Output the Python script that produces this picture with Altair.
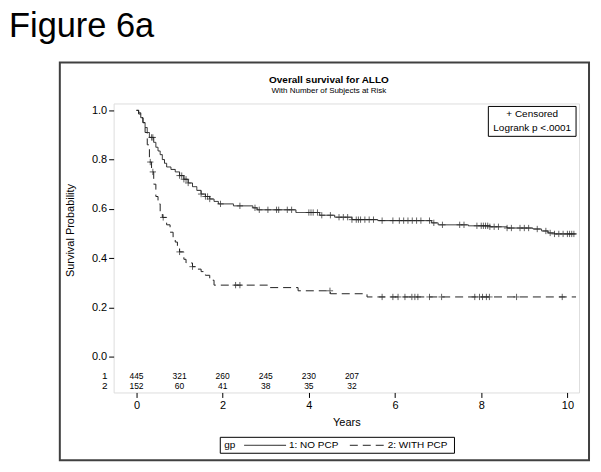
import altair as alt
import pandas as pd
import numpy as np

groups = ["1: NO PCP", "2: WITH PCP"]

# Kaplan-Meier step curves
t1 = [0.0, 0.05, 0.1, 0.15, 0.2, 0.25, 0.3, 0.4, 0.45, 0.5, 0.55, 0.6, 0.65, 0.7, 0.8, 0.9,
      1.0, 1.1, 1.2, 1.3, 1.4, 1.5, 1.6, 1.7, 1.8, 1.9, 2.25, 2.7, 2.8, 3.7, 4.25, 4.6, 5.0,
      5.6, 6.85, 7.0, 7.7, 8.2, 8.6, 9.2, 9.4, 9.55, 9.7, 10.2]
s1 = [1.0, 0.99, 0.97, 0.95, 0.93, 0.91, 0.89, 0.87, 0.85, 0.835, 0.82, 0.80, 0.785, 0.77, 0.76, 0.75,
      0.735, 0.72, 0.705, 0.69, 0.675, 0.66, 0.65, 0.64, 0.63, 0.62, 0.612, 0.604, 0.596, 0.585, 0.574, 0.566, 0.556,
      0.552, 0.543, 0.535, 0.531, 0.527, 0.522, 0.518, 0.51, 0.502, 0.498, 0.498]

t2 = [0.0, 0.05, 0.1, 0.15, 0.2, 0.25, 0.3, 0.35, 0.4, 0.45, 0.5, 0.55, 0.6, 0.7, 0.78, 0.85,
      0.9, 0.95, 1.0, 1.1, 1.15, 1.3, 1.4, 1.5, 1.6, 1.7, 1.8, 3.1, 3.75, 4.5, 5.35, 10.2]
s2 = [1.0, 0.985, 0.97, 0.95, 0.91, 0.86, 0.79, 0.75, 0.70, 0.65, 0.62, 0.59, 0.565, 0.535, 0.505, 0.48,
      0.465, 0.445, 0.425, 0.395, 0.38, 0.365, 0.355, 0.345, 0.33, 0.31, 0.29, 0.28, 0.267, 0.255, 0.242, 0.242]

# Censoring times
c1 = [0.35, 0.38, 1.0, 1.05, 1.1, 1.15, 1.2, 1.5, 1.6, 1.65, 1.7, 1.95, 2.4, 2.75, 2.85, 3.05,
      3.25, 3.3, 3.5, 3.6, 4.0, 4.05, 4.1, 4.2, 4.3, 4.5, 4.7, 4.8, 4.9, 5.0, 5.1, 5.15, 5.2, 5.3,
      5.4, 5.5, 5.7, 5.95, 6.1, 6.2, 6.3, 6.4, 6.5, 6.6, 6.8, 6.9, 7.1, 7.5, 7.6, 7.9, 8.0, 8.05,
      8.1, 8.15, 8.2, 8.3, 8.4, 8.6, 8.7, 8.9, 9.0, 9.1, 9.3, 9.5, 9.6, 9.7, 9.8, 9.9, 10.0,
      10.05, 10.1, 10.15]
c2 = [0.32, 0.38, 0.62, 1.0, 1.3, 2.3, 2.4, 4.49, 5.7, 5.95, 6.07, 6.23, 6.39, 6.46, 6.53,
      6.8, 7.08, 7.85, 7.96, 8.03, 8.12, 8.19, 8.82, 9.88]

# Number at risk
risk_times = [0, 1, 2, 3, 4, 5]
risk1 = [445, 321, 260, 245, 230, 207]
risk2 = [152, 60, 41, 38, 35, 32]

FONT = "Liberation Sans"
W, H = 467, 290

curves = pd.concat([
    pd.DataFrame({"t": t1, "s": s1, "group": groups[0]}),
    pd.DataFrame({"t": t2, "s": s2, "group": groups[1]}),
])


def step_at(ts, ss, c):
    idx = np.searchsorted(np.array(ts), np.array(c), side="right") - 1
    return [ss[i] for i in idx]


cens = pd.concat([
    pd.DataFrame({"t": c1, "s": step_at(t1, s1, c1), "group": groups[0]}),
    pd.DataFrame({"t": c2, "s": step_at(t2, s2, c2), "group": groups[1]}),
])

risk = pd.DataFrame({"t": risk_times, "n1": risk1, "n2": risk2})

xscale = alt.Scale(domain=[-0.53, 10.27], nice=False, zero=False)
yscale = alt.Scale(domain=[-0.146, 1.028], nice=False, zero=False)

xaxis = alt.Axis(title="Years", values=[0, 2, 4, 6, 8, 10], grid=False, domain=False,
                 tickSize=5, tickColor="black", labelFontSize=11, labelColor="black",
                 labelFont=FONT, titleFont=FONT, titleFontSize=11, titleFontWeight="normal",
                 titleColor="black", labelPadding=2, titlePadding=6)
yaxis = alt.Axis(title="Survival Probability", values=[0, 0.2, 0.4, 0.6, 0.8, 1.0], format=".1f",
                 grid=False, domain=False, tickSize=5, tickColor="black", labelFontSize=11,
                 labelColor="black", labelFont=FONT, titleFont=FONT, titleFontSize=11,
                 titleFontWeight="normal", titleColor="black", labelPadding=2,
                 titleX=-38, titleY=127)

dash_scale = alt.Scale(domain=groups, range=[[1, 0], [8, 5]])

lines = alt.Chart(curves).mark_line(interpolate="step-after", color="#222222", strokeWidth=1).encode(
    x=alt.X("t:Q", scale=xscale, axis=xaxis),
    y=alt.Y("s:Q", scale=yscale, axis=yaxis),
    strokeDash=alt.StrokeDash("group:N", scale=dash_scale, legend=None),
    detail="group:N",
)

marks = alt.Chart(cens).mark_point(
    shape="M0,-1V1M-1,0H1", filled=False, size=40, color="#222222", strokeWidth=1
).encode(x=alt.X("t:Q", scale=xscale), y=alt.Y("s:Q", scale=yscale))

r1 = alt.Chart(risk).mark_text(fontSize=8.5, font=FONT, color="black").encode(
    x=alt.X("t:Q", scale=xscale), y=alt.value(273), text="n1:Q")
r2 = alt.Chart(risk).mark_text(fontSize=8.5, font=FONT, color="black").encode(
    x=alt.X("t:Q", scale=xscale), y=alt.value(284), text="n2:Q")

one = pd.DataFrame({"a": [0]})


def label(txt, x, y, size=10, align="center", weight="normal", baseline="middle"):
    return alt.Chart(one).mark_text(text=txt, fontSize=size, font=FONT, align=align,
                                    fontWeight=weight, baseline=baseline, color="black").encode(
        x=alt.value(x), y=alt.value(y))


rowlab1 = label("1", -6, 273, align="right")
rowlab2 = label("2", -6, 284, align="right")

inset_box = alt.Chart(one).mark_rect(fill="white", stroke="black", strokeWidth=1).encode(
    x=alt.value(376), x2=alt.value(464), y=alt.value(3), y2=alt.value(33))
inset1 = label("+ Censored", 420, 11)
inset2 = label("Logrank p <.0001", 420, 25)

outer = alt.Chart(one).mark_rect(fill="transparent", stroke="#404040", strokeWidth=2).encode(
    x=alt.value(-54), x2=alt.value(477), y=alt.value(-41), y2=alt.value(358))

fig = label("Figure 6a", -105, -67, size=34.5, align="left", baseline="alphabetic")
title1 = label("Overall survival for ALLO", 216, -24, size=10, weight="bold")
title2 = label("With Number of Subjects at Risk", 216, -12, size=8)

# manual legend
leg_box = alt.Chart(one).mark_rect(fill="white", stroke="black", strokeWidth=1).encode(
    x=alt.value(107), x2=alt.value(342), y=alt.value(335), y2=alt.value(351))
leg_title = label("gp", 111, 343, align="left")
leg_df = pd.DataFrame({"group": groups})
leg_solid = alt.Chart(leg_df).transform_filter(alt.datum.group == groups[0]).mark_rule(
    color="#222222", strokeWidth=1).encode(
    x=alt.value(131), x2=alt.value(173), y=alt.value(343),
    strokeDash=alt.StrokeDash("group:N", scale=dash_scale, legend=None))
leg_dash = alt.Chart(leg_df).transform_filter(alt.datum.group == groups[1]).mark_rule(
    color="#222222", strokeWidth=1).encode(
    x=alt.value(237), x2=alt.value(271), y=alt.value(343),
    strokeDash=alt.StrokeDash("group:N", scale=dash_scale, legend=None))
leg_l1 = label(groups[0], 176, 343, align="left")
leg_l2 = label(groups[1], 275, 343, align="left")

chart = alt.layer(
    outer, inset_box, inset1, inset2, lines, marks, r1, r2, rowlab1, rowlab2, fig,
    title1, title2, leg_box, leg_title, leg_solid, leg_dash, leg_l1, leg_l2
).properties(
    width=W, height=H,
    padding={"left": 106, "top": 95, "right": 14, "bottom": 72},
    autosize=alt.AutoSizeParams(type="none"),
).configure_view(stroke="black", strokeWidth=1).configure(background="white")

chart.save("out.html", embed_options={"renderer": "svg", "actions": False})
